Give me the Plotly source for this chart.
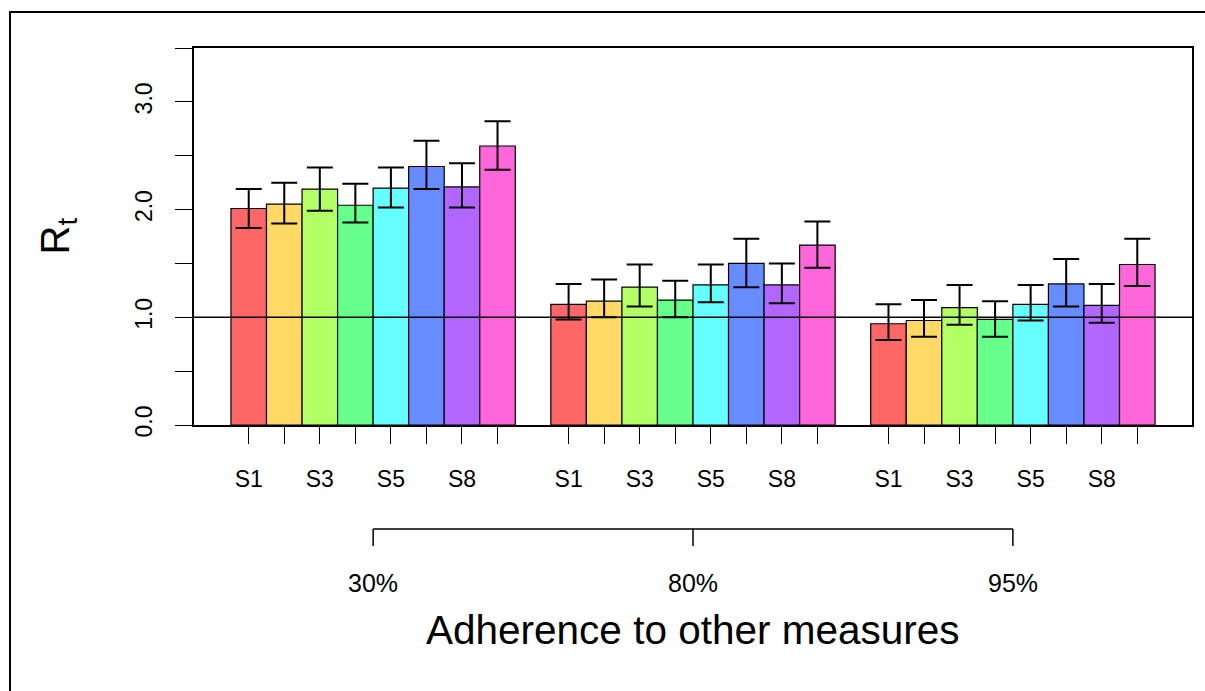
import plotly.graph_objects as go

# ---------------- data ----------------
groups = ["30%", "80%", "95%"]
scenario_ticks = ["S1", "", "S3", "", "S5", "", "S8", ""]
colors = ["#FF6666", "#FFD966", "#B3FF66", "#66FF8C",
          "#66FFFF", "#668CFF", "#B366FF", "#FF66D9"]

rt_30 = [2.01, 2.05, 2.19, 2.04, 2.20, 2.40, 2.21, 2.59]
lo_30 = [1.83, 1.87, 1.99, 1.88, 2.02, 2.19, 2.02, 2.37]
hi_30 = [2.19, 2.25, 2.39, 2.24, 2.39, 2.64, 2.43, 2.82]

rt_80 = [1.12, 1.15, 1.28, 1.16, 1.30, 1.50, 1.30, 1.67]
lo_80 = [0.98, 1.00, 1.10, 1.00, 1.14, 1.28, 1.13, 1.46]
hi_80 = [1.31, 1.35, 1.49, 1.34, 1.49, 1.73, 1.50, 1.89]

rt_95 = [0.94, 0.97, 1.09, 0.98, 1.12, 1.31, 1.11, 1.49]
lo_95 = [0.79, 0.82, 0.93, 0.82, 0.97, 1.10, 0.95, 1.29]
hi_95 = [1.12, 1.16, 1.30, 1.15, 1.30, 1.54, 1.31, 1.73]

y_tickvals = [0, 0.5, 1.0, 1.5, 2.0, 2.5, 3.0, 3.5]
y_ticktext = ["0.0", "", "1.0", "", "2.0", "", "3.0", ""]

vals = [rt_30, rt_80, rt_95]
los = [lo_30, lo_80, lo_95]
his = [hi_30, hi_80, hi_95]

n_s = len(scenario_ticks)
slot = n_s + 1  # bars per group plus one empty slot


def pos(g, i):
    return 1.5 + slot * g + i


FONT = "Liberation Sans, Arial, Helvetica, sans-serif"

fig = go.Figure()
for i in range(n_s):
    xs = [pos(g, i) for g in range(len(groups))]
    ys = [vals[g][i] for g in range(len(groups))]
    up = [his[g][i] - vals[g][i] for g in range(len(groups))]
    dn = [vals[g][i] - los[g][i] for g in range(len(groups))]
    fig.add_trace(go.Bar(
        x=xs, y=ys, width=1.0,
        marker=dict(color=colors[i], line=dict(color="black", width=1.2)),
        error_y=dict(type="data", symmetric=False, array=up, arrayminus=dn,
                     color="black", thickness=2, width=13),
        showlegend=False, hoverinfo="skip",
    ))

tickvals = [pos(g, i) for g in range(len(groups)) for i in range(n_s)]
ticktext = scenario_ticks * len(groups)

L, R, T, B = 194, 13, 48, 266
W, H = 1205, 691
pw, ph = W - L - R, H - T - B


def px_to_paper_x(px):
    return (px - L) / pw


def py_to_paper_y(py):
    return (H - B - py) / ph


shapes = []
# reference line at R_t = 1
shapes.append(dict(type="line", xref="paper", yref="y", x0=0, x1=1, y0=1, y1=1,
                   line=dict(color="black", width=1.5), layer="above"))
# group bracket
centers = [pos(g, 0) - 0.5 + n_s / 2 for g in range(len(groups))]
yb = py_to_paper_y(529)
yb2 = py_to_paper_y(546)
shapes.append(dict(type="line", xref="x", yref="paper", x0=centers[0], x1=centers[-1],
                   y0=yb, y1=yb, line=dict(color="black", width=1.5)))
for c in centers:
    shapes.append(dict(type="line", xref="x", yref="paper", x0=c, x1=c,
                       y0=yb, y1=yb2, line=dict(color="black", width=1.5)))
# outer frame
shapes.append(dict(type="rect", xref="paper", yref="paper",
                   x0=px_to_paper_x(10), x1=px_to_paper_x(1230),
                   y0=py_to_paper_y(720), y1=py_to_paper_y(12),
                   line=dict(color="black", width=2), fillcolor="rgba(0,0,0,0)"))

annotations = []
for g, c in enumerate(centers):
    annotations.append(dict(x=c, xref="x", y=py_to_paper_y(583), yref="paper",
                            text=groups[g], showarrow=False, xanchor="center",
                            yanchor="middle", font=dict(size=25, color="black", family=FONT)))
annotations.append(dict(x=centers[1], xref="x", y=py_to_paper_y(630), yref="paper",
                        text="Adherence to other measures", showarrow=False,
                        xanchor="center", yanchor="middle",
                        font=dict(size=40.5, color="black", family=FONT)))
annotations.append(dict(x=px_to_paper_x(57), xref="paper", y=0.5, yref="paper",
                        text="R<sub>t</sub>", showarrow=False, textangle=-90,
                        xanchor="center", yanchor="middle",
                        font=dict(size=40, color="black", family=FONT)))

fig.update_layout(
    width=W, height=H, autosize=False,
    margin=dict(l=L, r=R, t=T, b=B, pad=0),
    paper_bgcolor="white", plot_bgcolor="white",
    barmode="overlay",
    font=dict(family=FONT, color="black"),
    shapes=shapes, annotations=annotations,
    xaxis=dict(range=[-0.04, slot * len(groups) + 1.04], tickmode="array",
               tickvals=tickvals, ticktext=ticktext, ticks="outside", ticklen=17,
               tickwidth=1.2, tickcolor="black", showline=True, mirror=True,
               linecolor="black", linewidth=1.5, showgrid=False, zeroline=False,
               tickfont=dict(size=23, color="black", family=FONT),
               ticklabelstandoff=16, tickangle=0),
    yaxis=dict(range=[0, 3.5], tickmode="array", tickvals=y_tickvals,
               ticktext=y_ticktext, ticks="outside", ticklen=17, tickwidth=1.2,
               tickcolor="black", showline=True, mirror=True, linecolor="black",
               linewidth=1.5, showgrid=False, zeroline=False, tickangle=-90,
               tickfont=dict(size=23, color="black", family=FONT),
               ticklabelstandoff=14),
)

fig.write_html("out.html")
